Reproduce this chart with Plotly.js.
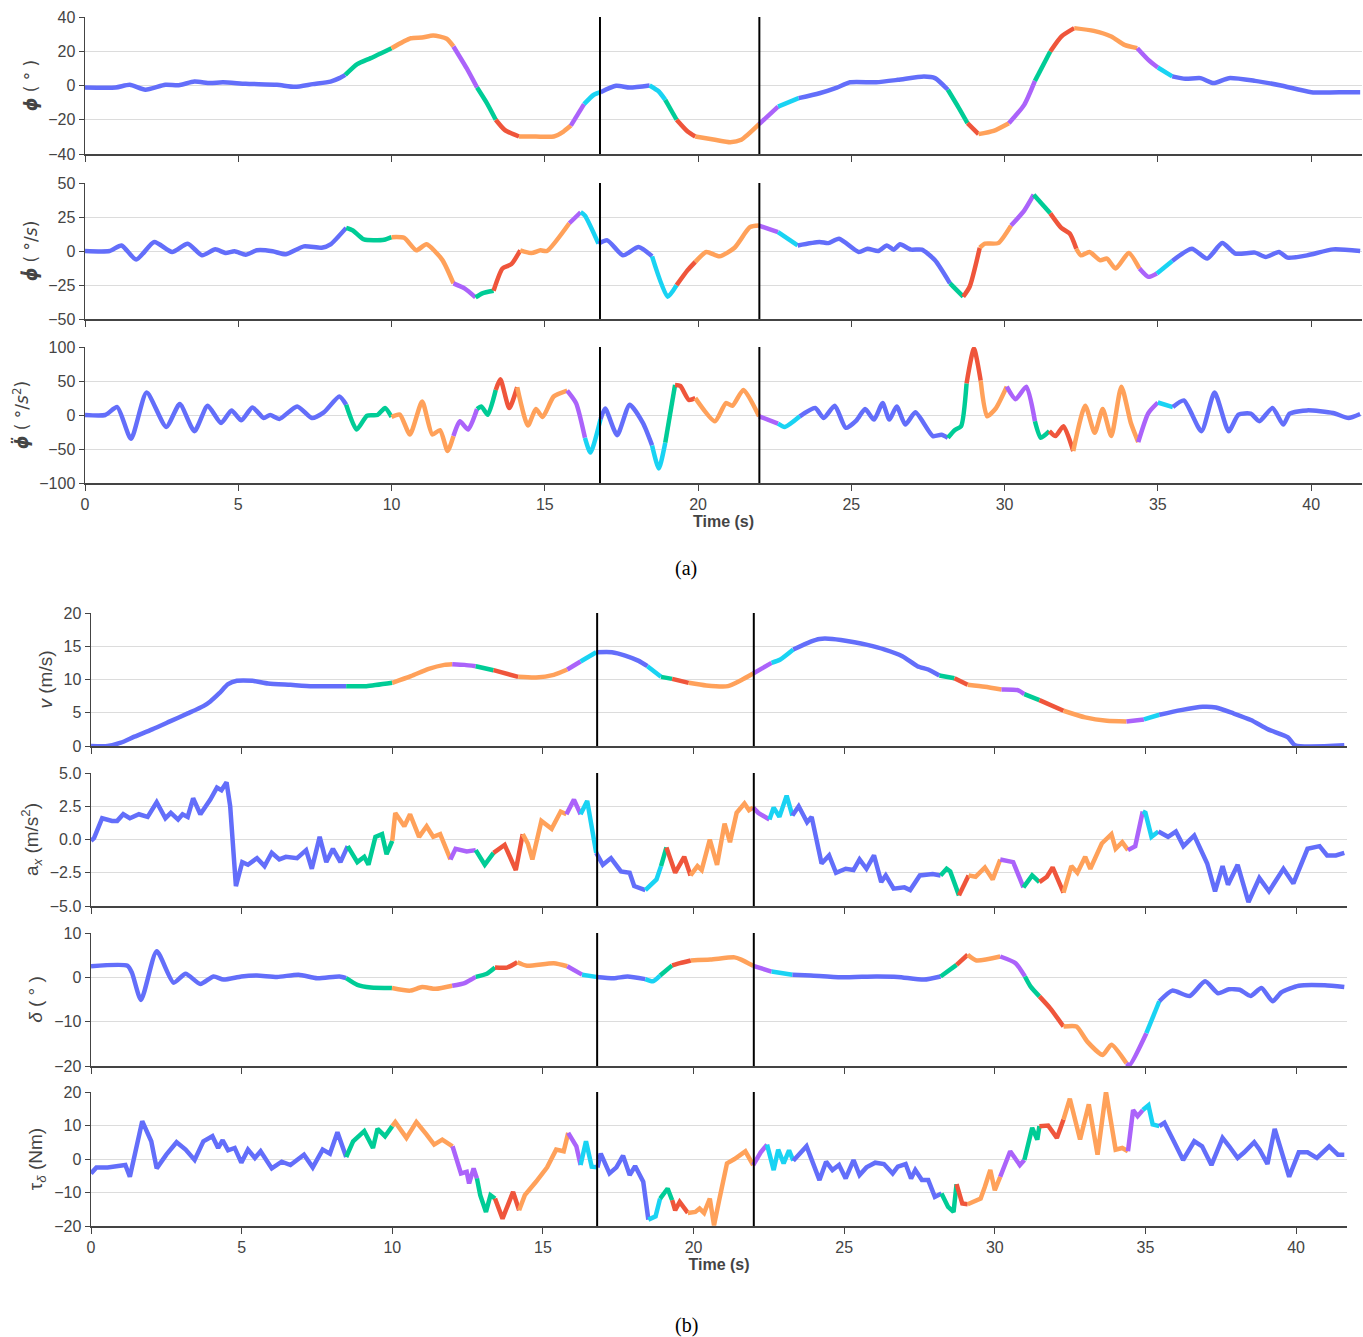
<!DOCTYPE html>
<html>
<head>
<meta charset="utf-8">
<script src="https://cdn.plot.ly/plotly-3.0.1.min.js"></script>
<style>html,body{margin:0;padding:0;background:#fff;}</style>
</head>
<body>
<div id="chart" style="width:1363px;height:1337px;"></div>
<script>
// ---------------- DATA ----------------
// colour keys: B blue, R red, G green, P purple, O orange, C cyan
const t_phi = [0,1.0,1.46,1.97,2.62,3.06,3.57,4.08,4.5,5.24,6.26,6.85,7.43,8.01,8.3,8.49,8.88,9.32,10.0,10.63,11.0,11.36,11.8,12.02,12.45,12.79,13.11,13.4,13.69,14.16,14.71,15.29,15.61,15.85,16.28,16.6,16.82,17.33,17.77,18.42,18.72,18.93,19.3,19.66,19.91,20.55,21.05,21.41,21.99,22.61,23.28,23.96,24.53,24.96,25.81,26.52,27.37,27.73,28.15,28.51,28.79,29.15,29.64,30.14,30.64,30.99,31.49,31.85,32.27,32.91,33.48,33.91,34.33,34.69,35.0,35.47,35.9,36.39,36.82,37.32,38.17,39.02,40.01,41.15,41.6];
const y_phi = [-1.2,-1.2,0.4,-2.5,0.4,0.2,2.3,1.4,1.9,1.0,0.4,-0.8,0.8,2.3,4.3,6.2,12.5,16,21.8,27.6,28,29.2,27.3,22.8,10.1,-1.2,-10.3,-20,-25.9,-29.8,-29.8,-29.8,-26.9,-23.4,-10.9,-5.4,-3.9,-0.2,-1.2,0,-3.5,-8.4,-20,-26.9,-29.8,-31.7,-33.1,-31.7,-22.6,-12.3,-7.4,-4.5,-1.2,1.9,1.9,3.3,5.3,4.3,-2.5,-13.2,-22,-28.4,-26.5,-22,-11.3,2.7,19.9,28.6,33.5,31.9,28.6,23.7,21.8,15,10.5,5.3,3.9,4.3,1.4,4.3,2.7,0,-3.9,-3.9,-3.9];
const seg_phi = [[0,'B'],[8.49,'G'],[10.0,'O'],[12.02,'P'],[12.79,'G'],[13.4,'R'],[14.16,'O'],[15.85,'P'],[16.28,'C'],[16.82,'B'],[18.42,'C'],[18.93,'G'],[19.3,'R'],[19.91,'O'],[21.99,'P'],[22.61,'C'],[23.28,'B'],[28.15,'G'],[28.79,'R'],[29.15,'O'],[30.14,'P'],[30.99,'G'],[31.49,'R'],[32.27,'O'],[34.33,'P'],[35.0,'C'],[35.47,'B']];

const t_phid = [0,0.8,1.19,1.67,2.26,2.84,3.35,3.82,4.25,4.59,4.88,5.24,5.61,6.12,6.55,7.14,7.72,8.01,8.52,8.74,9.1,9.76,10.0,10.41,10.81,11.14,11.65,12.02,12.38,12.74,12.96,13.33,13.62,13.91,14.2,14.56,14.86,15.07,15.8,16.17,16.31,16.75,17.04,17.55,18.06,18.5,19.01,19.3,19.66,19.91,20.27,20.7,21.19,21.69,21.99,22.61,23.25,23.96,24.25,24.6,25.24,25.53,25.88,26.16,26.38,26.59,26.95,27.3,27.73,28.22,28.65,28.86,29.19,29.36,29.79,30.21,30.64,30.95,31.49,31.85,32.13,32.34,32.49,32.77,33.12,33.34,33.62,34.05,34.4,34.69,34.97,35.47,36.11,36.61,37.1,37.53,38.17,38.52,38.95,39.23,39.87,40.72,41.6];
const y_phid = [0,0,4.1,-6.3,6.6,-0.7,5.4,-3.2,1.2,-1.5,-0.2,-2.7,0.5,-0.2,-2.4,3.4,2.4,4.9,17,15.1,8.5,8.3,10.2,9.7,0.5,4.9,-6.3,-23.8,-27.5,-34.1,-31.1,-29.2,-12.9,-9.7,0.5,-1.5,0.5,0,20.4,28.5,26,5.4,7.8,-3.2,2.9,-3.9,-33.6,-25.1,-14.1,-8,-0.7,-3.9,2.4,17.5,18.7,13.9,4.1,6.6,5.8,9,-0.7,1.7,0,4.1,1,4.9,1,1,-6.8,-23.8,-33.6,-26.3,2.4,5.4,5.8,18.7,29.7,41.4,27.7,17,12.7,1.7,-3.2,-0.7,-6.8,-5.6,-12.9,-1.5,-12.9,-19,-16.5,-7.3,1.7,-5.6,5.8,-1.9,-1.2,-4.4,-0.7,-4.9,-3.2,1.2,0];
const seg_phid = [[0,'B'],[8.52,'G'],[10.0,'O'],[12.02,'P'],[12.74,'G'],[13.33,'R'],[14.2,'O'],[15.8,'P'],[16.17,'C'],[16.75,'B'],[18.5,'C'],[19.3,'R'],[19.91,'O'],[21.99,'P'],[22.61,'C'],[23.25,'B'],[28.22,'G'],[28.65,'R'],[29.19,'O'],[30.21,'P'],[30.95,'G'],[31.49,'R'],[32.34,'O'],[34.4,'P'],[34.97,'C'],[35.47,'B']];

const t_phidd = [0,0.66,1.05,1.5,2.01,2.65,3.09,3.57,4.0,4.44,4.78,5.1,5.46,5.83,6.04,6.34,6.92,7.4,7.79,8.3,8.52,8.86,9.2,9.54,9.79,10.0,10.27,10.6,11.0,11.33,11.58,11.83,12.02,12.23,12.5,12.79,12.93,13.14,13.4,13.55,13.84,14.1,14.45,14.71,14.93,15.29,15.73,16.02,16.31,16.49,16.82,16.97,17.36,17.77,18.2,18.5,18.72,18.93,19.25,19.42,19.7,19.91,20.55,20.91,21.12,21.48,21.99,22.61,22.83,23.32,23.82,24.1,24.46,24.82,25.17,25.45,25.74,26.02,26.24,26.48,26.76,27.09,27.66,27.94,28.15,28.37,28.58,28.76,29.0,29.22,29.43,29.72,30.07,30.36,30.71,30.99,31.18,31.46,31.66,31.92,32.24,32.63,32.94,33.2,33.48,33.81,34.12,34.36,34.69,35.0,35.49,35.85,36.42,36.85,37.31,37.63,38.03,38.31,38.74,39.09,39.3,39.87,40.72,41.22,41.6];
const y_phidd = [0,0,11.7,-35,33,-17.5,16,-23.8,13.6,-11.7,6.8,-7.8,11.2,-4.4,0,-5.8,12.6,-4.4,3.9,27.2,15,-21.4,-1,0,10.2,-2.9,0.5,-28.6,19.9,-28.6,-22.3,-52.9,-31,-9.2,-21.4,8.7,12.6,0.5,36.9,52.4,10.2,40.8,-15.5,8.7,-2.9,27.2,35.9,17.5,-33.5,-55.3,-5.8,9.7,-29.6,15,-11.7,-44.7,-78.6,-40.8,44.2,42.7,22.3,24.8,-9.2,17.5,13.6,36.9,-1.9,-12.6,-17.5,-1.9,10.2,-4.4,13.6,-18.9,-7.8,8.7,-6.8,17.5,-6.8,12.6,-14.1,3.9,-31,-29.1,-33.5,-22.3,-16.5,46.6,97.6,50.5,-1.9,10.2,41.7,23.3,41.7,-9.2,-33.5,-23.8,-31,-16.5,-52.9,13.6,-26.2,8.7,-31,41.7,-11.7,-39.8,2.9,18.4,11.7,21.4,-23.8,33,-23.8,0.5,1.9,-9.2,10.2,-14.1,1.9,6.8,2.9,-4.4,1.5];
const seg_phidd = [[0,'B'],[8.52,'G'],[10.0,'O'],[12.02,'P'],[12.79,'G'],[13.4,'R'],[14.1,'O'],[15.73,'P'],[16.31,'C'],[16.82,'B'],[18.5,'C'],[18.93,'G'],[19.25,'R'],[19.91,'O'],[21.99,'P'],[22.61,'C'],[23.32,'B'],[28.15,'G'],[28.76,'R'],[29.22,'O'],[30.07,'P'],[30.99,'G'],[31.46,'R'],[32.24,'O'],[34.36,'P'],[35.0,'C'],[35.49,'B']];

const t_v = [0,0.55,0.99,1.44,2.03,2.62,3.21,3.73,3.96,4.25,4.55,4.84,5.36,5.88,6.62,7.36,8.47,9.14,10.0,10.62,11.21,11.73,11.99,12.4,12.77,13.36,14.18,14.77,15.36,15.81,16.25,16.77,17.29,17.73,18.18,18.47,18.92,19.29,19.84,20.42,21.14,21.58,21.98,22.59,22.88,23.31,23.89,24.18,24.61,25.34,25.77,26.35,26.93,27.43,27.79,28.16,28.66,29.1,29.67,30.22,30.76,30.98,31.48,32.28,33.0,33.72,34.37,34.95,35.46,36.18,36.9,37.34,37.92,38.5,39.07,39.73,39.97,41.6];
const y_v = [0,0,0.5,1.4,2.5,3.7,4.9,6.0,6.7,7.9,9.3,9.8,9.8,9.4,9.2,9.0,9.0,9.0,9.5,10.5,11.6,12.2,12.3,12.2,12.0,11.4,10.4,10.3,10.7,11.5,12.7,14.1,14.1,13.6,12.8,12.0,10.4,10.1,9.5,9.1,9.0,9.9,10.9,12.5,13.0,14.5,15.7,16.1,16.1,15.6,15.2,14.5,13.5,12.0,11.5,10.6,10.2,9.2,8.9,8.5,8.4,7.8,6.9,5.3,4.3,3.8,3.7,4.0,4.7,5.4,5.9,5.8,4.9,3.9,2.5,1.3,0.1,0.1];
const seg_v = [[0,'B'],[8.47,'G'],[10.0,'O'],[11.99,'P'],[12.77,'G'],[13.36,'R'],[14.18,'O'],[15.81,'P'],[16.25,'C'],[16.77,'B'],[18.47,'C'],[18.92,'G'],[19.29,'R'],[19.84,'O'],[21.98,'P'],[22.59,'C'],[23.31,'B'],[28.16,'G'],[28.66,'R'],[29.1,'O'],[30.22,'P'],[30.98,'G'],[31.48,'R'],[32.28,'O'],[34.37,'P'],[34.95,'C'],[35.46,'B']];

const t_ax = [0,0.1,0.37,0.7,0.87,1.07,1.29,1.59,1.88,2.18,2.47,2.65,2.89,3.04,3.21,3.39,3.63,3.96,4.18,4.33,4.5,4.62,4.81,5.02,5.21,5.51,5.76,6.0,6.25,6.47,6.84,7.14,7.33,7.59,7.81,8.03,8.28,8.52,8.84,9.07,9.21,9.44,9.66,9.81,10.0,10.1,10.4,10.59,10.89,11.14,11.36,11.59,11.93,12.1,12.47,12.77,13.07,13.36,13.73,14.1,14.33,14.5,14.65,14.95,15.29,15.59,15.78,16.03,16.25,16.47,16.77,16.99,17.26,17.59,17.88,18.03,18.4,18.77,18.92,19.1,19.39,19.69,19.9,20.13,20.27,20.54,20.78,21.03,21.21,21.43,21.69,21.84,21.98,22.15,22.52,22.66,22.85,23.09,23.28,23.49,23.77,23.92,24.25,24.5,24.73,25.05,25.31,25.51,25.74,25.99,26.23,26.38,26.64,27.0,27.19,27.51,27.94,28.2,28.4,28.52,28.81,29.13,29.36,29.67,29.93,30.18,30.61,30.95,31.24,31.48,31.73,31.92,32.28,32.54,32.74,33.0,33.17,33.55,33.87,34.01,34.23,34.42,34.66,34.91,35.0,35.2,35.43,35.75,36.01,36.26,36.62,37.05,37.31,37.56,37.74,38.06,38.42,38.78,39.1,39.58,39.91,40.38,40.78,41.03,41.32,41.6];
const y_ax = [-0.1,0.1,1.6,1.4,1.4,1.9,1.6,1.9,1.7,2.8,1.6,2.0,1.5,1.9,1.7,3.1,1.9,3.0,3.9,3.7,4.3,2.5,-3.5,-1.7,-1.9,-1.4,-2.0,-1.0,-1.5,-1.3,-1.4,-0.8,-2.2,0.2,-1.7,-0.7,-1.7,-0.5,-1.7,-1.3,-1.9,0.2,0.4,-1.1,-0.1,2.0,1.0,1.9,0.2,1.0,0.2,0.4,-1.5,-0.7,-0.9,-0.8,-1.9,-1.0,-0.4,-2.3,0.4,-0.3,-1.5,1.4,0.8,2.1,1.9,3.0,1.9,2.9,-1.0,-1.9,-1.4,-2.4,-2.5,-3.5,-3.8,-3.0,-2.0,-0.6,-2.5,-1.3,-2.7,-2.0,-2.3,0,-1.9,1.2,-0.2,2.0,2.7,2.2,2.4,2.0,1.5,2.4,1.7,3.3,1.8,2.5,1.3,1.7,-1.8,-1.2,-2.5,-2.2,-2.3,-1.5,-2.2,-1.2,-3.2,-2.7,-3.7,-3.6,-3.8,-2.7,-2.6,-2.7,-2.2,-2.4,-4.2,-2.7,-2.8,-2.1,-3.0,-1.5,-1.7,-3.6,-2.7,-3.2,-2.8,-2.1,-4.0,-2.0,-2.5,-1.3,-2.2,-0.3,0.4,-0.7,-0.2,-0.8,-0.5,2.1,2.0,0.2,0.6,0.2,0.6,-0.5,0.3,-1.8,-3.9,-2.0,-3.4,-1.9,-4.7,-2.9,-3.9,-2.2,-3.3,-0.7,-0.5,-1.2,-1.2,-1.0];
const seg_ax = [[0,'B'],[8.52,'G'],[10.0,'O'],[11.93,'P'],[12.77,'G'],[13.36,'R'],[14.33,'O'],[15.78,'P'],[16.25,'C'],[16.77,'B'],[18.4,'C'],[18.92,'G'],[19.1,'R'],[19.9,'O'],[21.98,'P'],[22.52,'C'],[23.28,'B'],[28.2,'G'],[28.81,'R'],[29.13,'O'],[30.18,'P'],[30.95,'G'],[31.48,'R'],[32.28,'O'],[34.42,'P'],[34.91,'C'],[35.43,'B']];

const t_delta = [0,1.21,1.36,1.66,2.18,2.74,3.14,3.63,4.07,4.4,4.99,5.51,6.18,6.89,7.51,8.25,8.47,8.84,9.29,9.99,10.59,10.99,11.44,11.99,12.4,12.77,13.14,13.41,13.81,14.15,14.47,15.36,15.81,16.3,16.77,17.36,17.81,18.4,18.65,18.89,19.29,19.55,19.91,20.56,21.36,21.58,21.98,22.59,23.28,23.89,24.9,26.06,26.78,27.65,28.2,28.73,29.1,29.39,30.18,30.69,31.0,31.19,31.48,31.84,32.28,32.71,33.07,33.58,33.87,34.37,34.47,35.03,35.46,35.89,36.47,36.98,37.41,37.77,38.13,38.49,38.85,39.22,39.51,40.09,40.95,41.6];
const y_delta = [2.5,2.6,1.0,-5.1,5.9,-1.2,0.8,-1.5,0.2,-0.5,0.2,0.4,0.1,0.6,-0.2,0.2,-0.2,-1.7,-2.3,-2.4,-3.0,-2.2,-2.6,-1.9,-1.3,0.1,0.8,2.2,2.2,3.4,2.6,3.2,2.5,0.6,0.1,-0.2,0.2,-0.4,-0.9,0.4,2.7,3.2,3.8,4.0,4.5,4.0,2.6,1.3,0.6,0.4,0,0.2,0.1,-0.5,0.2,2.8,5.1,3.8,4.7,3.2,0.2,-2.1,-4.3,-7.0,-11.1,-11.1,-14.5,-17.5,-15.2,-19.4,-19.8,-12.6,-5.4,-3.0,-4.2,-0.9,-3.6,-2.7,-2.8,-4.2,-2.4,-5.4,-3.4,-1.9,-1.8,-2.2];
const seg_delta = [[0,'B'],[8.47,'G'],[9.99,'O'],[11.99,'P'],[12.77,'G'],[13.41,'R'],[14.15,'O'],[15.81,'P'],[16.3,'C'],[16.77,'B'],[18.4,'C'],[18.89,'G'],[19.29,'R'],[19.91,'O'],[21.98,'P'],[22.59,'C'],[23.28,'B'],[28.2,'G'],[28.73,'R'],[29.1,'O'],[30.18,'P'],[31.0,'G'],[31.48,'R'],[32.28,'O'],[34.37,'P'],[35.03,'C'],[35.46,'B']];

const t_tau = [0,0.18,0.55,0.99,1.14,1.29,1.7,2.0,2.18,2.5,2.84,3.14,3.44,3.73,4.03,4.22,4.37,4.55,4.77,4.99,5.21,5.44,5.63,6.0,6.33,6.62,7.07,7.36,7.69,7.93,8.18,8.47,8.7,9.07,9.36,9.51,9.76,10.0,10.1,10.47,10.8,11.14,11.39,11.66,11.88,12.0,12.28,12.47,12.55,12.7,12.81,12.92,13.11,13.26,13.41,13.66,14.01,14.21,14.4,14.77,15.14,15.44,15.69,15.84,16.11,16.25,16.43,16.62,16.81,16.92,17.21,17.44,17.66,17.88,18.06,18.33,18.5,18.74,18.89,19.14,19.29,19.39,19.54,19.81,20.06,20.2,20.35,20.54,20.68,20.85,21.11,21.36,21.72,21.98,22.23,22.44,22.66,22.81,22.99,23.17,23.31,23.75,24.18,24.4,24.61,24.83,25.05,25.31,25.51,25.74,26.03,26.32,26.61,26.78,27.04,27.22,27.36,27.58,27.79,28.01,28.23,28.45,28.63,28.73,28.92,29.1,29.53,29.67,29.85,30.0,30.18,30.51,30.83,30.98,31.24,31.41,31.48,31.77,32.06,32.28,32.49,32.83,33.12,33.41,33.69,34.01,34.23,34.42,34.59,34.74,34.91,35.1,35.24,35.46,35.63,35.97,36.25,36.62,36.88,37.19,37.56,37.78,38.06,38.28,38.61,38.79,39.05,39.29,39.54,39.77,40.09,40.38,40.69,41.1,41.39,41.6];
const y_tau = [-4.3,-2.5,-2.5,-2.1,-1.8,-5.3,11.3,5.3,-2.8,1.3,5.0,2.8,-0.3,5.3,6.8,3.3,5.6,2.6,3.3,-1.1,2.8,0.3,2.3,-2.8,-0.8,-1.8,1.3,-2.5,2.8,1.6,8.0,0.6,5.3,8.3,3.3,9.0,6.8,9.8,11.0,6.3,11.0,7.3,4.3,5.8,4.3,3.8,-4.3,-3.8,-7.3,-2.8,-5.8,-10.8,-15.8,-10.8,-11.8,-17.8,-9.8,-15.3,-10.8,-6.8,-2.5,2.8,2.3,7.8,3.8,-1.8,5.3,-2.3,-2.5,1.6,-4.3,-2.5,1.0,-4.8,-2.1,-6.8,-18.1,-17.1,-11.8,-8.8,-12.3,-15.3,-12.8,-16.1,-15.8,-14.8,-16.1,-11.8,-19.8,-12.3,-1.3,0,2.3,-1.8,2.0,4.3,-3.3,2.8,-1.3,2.6,-0.5,3.8,-6.3,-0.8,-3.3,-1.8,-5.8,-0.3,-4.8,-2.5,-1.1,-1.5,-4.3,-2.3,-1.5,-5.8,-3.3,-6.3,-6.3,-11.3,-10.3,-14.3,-15.8,-7.5,-13.3,-13.5,-11.8,-8.3,-3.3,-9.3,-5.3,2.3,-1.8,-0.3,9.3,5.8,9.8,10.0,6.3,11.8,18.0,5.8,16.3,1.3,20.0,2.8,3.3,2.3,14.6,12.8,14.6,16.0,10.3,9.8,10.8,4.8,-0.3,5.3,3.8,-1.8,6.3,3.8,0.3,2.0,5.0,2.8,-1.5,9.0,1.8,-5.3,2.0,2.0,0.3,3.8,1.3,1.3];
const seg_tau = [[0,'B'],[8.47,'G'],[10.0,'O'],[12.0,'P'],[12.81,'G'],[13.41,'R'],[14.21,'O'],[15.84,'P'],[16.25,'C'],[16.81,'B'],[18.5,'C'],[18.89,'G'],[19.29,'R'],[19.81,'O'],[21.98,'P'],[22.44,'C'],[23.31,'B'],[28.23,'G'],[28.73,'R'],[29.1,'O'],[30.18,'P'],[30.98,'G'],[31.48,'R'],[32.28,'O'],[34.42,'P'],[34.91,'C'],[35.46,'B']];

const x_ticks = [0,5,10,15,20,25,30,35,40];
const events = [16.8, 22.0];

// ---------------- BUILD ----------------
const COL = {B:'#636EFA', R:'#EF553B', G:'#00CC96', P:'#AB63FA', O:'#FFA15A', C:'#19D3F3'};
function segTraces(t, y, segs, n, shape) {
  const out = [];
  for (let k = 0; k < segs.length; k++) {
    const t0 = segs[k][0], t1 = k + 1 < segs.length ? segs[k+1][0] : Infinity;
    const xs = [], ys = [];
    for (let i = 0; i < t.length; i++) {
      if (t[i] >= t0 - 1e-9 && t[i] <= t1 + 1e-9) { xs.push(t[i]); ys.push(y[i]); }
    }
    out.push({x: xs, y: ys, xaxis: 'x' + (n === 1 ? '' : n), yaxis: 'y' + (n === 1 ? '' : n),
      type: 'scatter', mode: 'lines', hoverinfo: 'skip', showlegend: false,
      line: {color: COL[segs[k][1]], width: 4.5, shape: shape, smoothing: 0.6}});
  }
  return out;
}
const data = [].concat(
  segTraces(t_phi, y_phi, seg_phi, 1, 'spline'),
  segTraces(t_phid, y_phid, seg_phid, 2, 'spline'),
  segTraces(t_phidd, y_phidd, seg_phidd, 3, 'spline'),
  segTraces(t_v, y_v, seg_v, 4, 'spline'),
  segTraces(t_ax, y_ax, seg_ax, 5, 'linear'),
  segTraces(t_delta, y_delta, seg_delta, 6, 'spline'),
  segTraces(t_tau, y_tau, seg_tau, 7, 'linear')
);

const W = 1363, H = 1337;
const TXT = '#444';
function ydom(top, bot) { return [1 - bot / H, 1 - top / H]; }
function yax(dom, range, tickvals, title, fmt, fam, fsize) {
  const tf = {size: fsize || 19, color: TXT};
  if (fam) tf.family = fam;
  return {domain: dom, range: range, tickvals: tickvals, tickformat: fmt || '',
    showgrid: true, gridcolor: '#DCDCDC', gridwidth: 1, zeroline: false,
    showline: true, linecolor: TXT, linewidth: 1.5, ticks: 'outside', ticklen: 5, tickcolor: TXT,
    tickfont: {size: 16, color: TXT}, fixedrange: true,
    title: {text: title, font: tf, standoff: 6}};
}
function xax(dom, range, anchor, labels, title) {
  const a = {domain: dom, range: range, anchor: anchor, tickvals: x_ticks,
    showgrid: false, zeroline: false, showline: true, linecolor: TXT, linewidth: 1.5,
    ticks: 'outside', ticklen: 6, tickcolor: TXT, showticklabels: labels,
    tickfont: {size: 16, color: TXT}, fixedrange: true};
  if (title) a.title = {text: title, font: {size: 16, color: TXT}, standoff: 4};
  return a;
}
const dTop = [85 / W, 1362 / W], rTop = [0, 41.66];
const dBot = [91 / W, 1347 / W], rBot = [0, 41.69];
const DV = 'DejaVu Sans, sans-serif';

const layout = {
  width: W, height: H, margin: {l: 0, r: 0, t: 0, b: 0},
  paper_bgcolor: '#fff', plot_bgcolor: '#fff', showlegend: false,
  font: {family: 'Liberation Sans, Arial, sans-serif', size: 16, color: TXT},
  xaxis:  xax(dTop, rTop, 'y', false),
  xaxis2: xax(dTop, rTop, 'y2', false),
  xaxis3: xax(dTop, rTop, 'y3', true, '<b>Time (s)</b>'),
  xaxis4: xax(dBot, rBot, 'y4', false),
  xaxis5: xax(dBot, rBot, 'y5', false),
  xaxis6: xax(dBot, rBot, 'y6', false),
  xaxis7: xax(dBot, rBot, 'y7', true, '<b>Time (s)</b>'),
  yaxis:  Object.assign(yax(ydom(17, 154), [-40, 40], [-40,-20,0,20,40], '<b><i>ϕ</i></b> ( ° )', '', DV, 17), {anchor: 'x'}),
  yaxis2: Object.assign(yax(ydom(183, 319), [-50, 50], [-50,-25,0,25,50], '<b><i>ϕ̇</i></b> ( °/<i>s</i>)', '', DV, 17), {anchor: 'x2'}),
  yaxis3: Object.assign(yax(ydom(347, 483), [-100, 100], [-100,-50,0,50,100], '<b><i>ϕ̈</i></b> ( °/<i>s</i><sup>2</sup>)', '', DV, 17), {anchor: 'x3'}),
  yaxis4: Object.assign(yax(ydom(613, 746), [0, 20], [0,5,10,15,20], '<i>v</i> (m/s)'), {anchor: 'x4'}),
  yaxis5: Object.assign(yax(ydom(773, 906), [-5, 5], [-5,-2.5,0,2.5,5], 'a<sub><i>x</i></sub> (m/s<sup>2</sup>)', '.1f'), {anchor: 'x5'}),
  yaxis6: Object.assign(yax(ydom(933, 1066), [-20, 10], [-20,-10,0,10], '<i>δ</i> ( ° )'), {anchor: 'x6'}),
  yaxis7: Object.assign(yax(ydom(1092, 1226), [-20, 20], [-20,-10,0,10,20], 'τ<sub><i>δ</i></sub> (Nm)'), {anchor: 'x7'}),
  shapes: [],
  annotations: [
    {text: '(a)', x: 686 / W, y: 1 - 568 / H, xref: 'paper', yref: 'paper', showarrow: false,
     xanchor: 'center', yanchor: 'middle',
     font: {family: 'Liberation Serif, Times New Roman, serif', size: 20, color: '#000'}},
    {text: '(b)', x: 686 / W, y: 1 - 1325 / H, xref: 'paper', yref: 'paper', showarrow: false,
     xanchor: 'center', yanchor: 'middle',
     font: {family: 'Liberation Serif, Times New Roman, serif', size: 20, color: '#000'}}
  ]
};
for (let n = 1; n <= 7; n++) {
  const s = n === 1 ? '' : String(n);
  events.forEach(function (e) {
    layout.shapes.push({type: 'line', xref: 'x' + s, yref: 'y' + s + ' domain', x0: e, x1: e, y0: 0, y1: 1,
      line: {color: '#000', width: 2}, layer: 'above'});
  });
}
Plotly.newPlot('chart', data, layout, {staticPlot: true, displayModeBar: false});
</script>
</body>
</html>
